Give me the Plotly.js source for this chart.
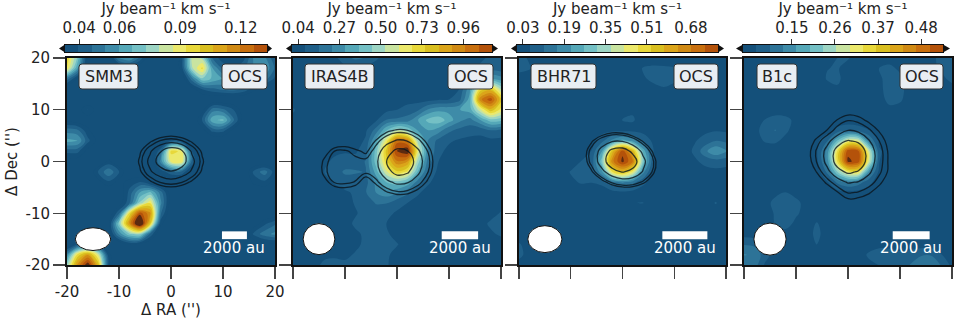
<!DOCTYPE html>
<html><head><meta charset="utf-8">
<script src="https://cdn.plot.ly/plotly-3.0.1.min.js"></script>
<style>html,body{margin:0;padding:0;background:#fff}#c{width:957px;height:320px}</style></head>
<body><div id="c"></div>
<script>
const gridX=[-20,-18,-16,-14,-12,-10,-8,-6,-4,-2,0,2,4,6,8,10,12,14,16,18,20];
const gridY=[20,18,16,14,12,10,8,6,4,2,0,-2,-4,-6,-8,-10,-12,-14,-16,-18,-20];
const names=["SMM3","IRAS4B","BHR71","B1c"];
const tickVals=[-20,-10,0,10,20];
const tickText=["-20","-10","0","10","20"];
const cbTicks=[[0.04,0.06,0.09,0.12],[0.04,0.27,0.50,0.73,0.96],[0.03,0.19,0.35,0.51,0.68],[0.15,0.26,0.37,0.48]];
const cbText=[["0.04","0.06","0.09","0.12"],["0.04","0.27","0.50","0.73","0.96"],["0.03","0.19","0.35","0.51","0.68"],["0.15","0.26","0.37","0.48"]];
const vMin=[0.033,0.006,0.007,0.025];
const vMax=[0.133,1.12,0.785,0.536];
const bandColors=["#14507a","#1f5f88","#2d7397","#3e8ba8","#55a8b8","#74c0c5","#9dd5c4","#c9e4a0","#ece96c","#e8d83a","#d9bf20","#dba51a","#d08a14","#c86f0e","#b4520a","#5c2a10"];

// integrated OCS intensity, mJy/beam km/s
const ocsSMM3=[
[98,72,30,25,25,55,60,45,25,25,25,35,82,78,45,35,30,38,55,55,40],
[92,60,25,25,25,25,30,25,25,25,25,35,78,95,60,45,40,45,55,60,45],
[50,32,25,25,25,25,25,25,25,25,25,25,50,72,65,60,60,60,58,50,38],
[25,25,25,25,25,25,25,25,25,25,25,25,30,40,45,48,50,45,35,28,25],
[25,25,25,25,25,25,25,25,25,25,25,25,25,25,25,25,25,25,25,25,25],
[25,28,40,28,25,25,25,25,25,25,25,25,25,30,50,48,40,28,25,25,25],
[30,28,28,25,25,25,25,25,25,25,25,25,25,40,65,68,48,28,25,25,25],
[50,48,35,25,25,25,25,25,25,25,25,25,25,30,42,42,30,25,25,25,25],
[62,60,42,30,25,25,25,25,25,25,40,35,25,25,25,25,25,25,25,25,25],
[42,42,30,25,25,25,25,25,25,45,95,92,40,25,25,25,25,25,25,25,25],
[28,28,25,25,35,25,25,25,25,55,88,92,45,25,25,25,25,25,25,25,25],
[25,25,25,40,52,40,25,25,25,35,45,45,30,25,25,25,25,25,42,50,36],
[25,25,25,30,38,30,36,40,32,25,25,25,25,25,25,25,25,25,35,38,30],
[25,25,25,25,25,25,42,60,68,50,28,25,25,25,25,25,25,25,25,25,25],
[25,25,25,25,25,28,45,75,92,55,28,25,25,25,25,25,25,25,25,25,25],
[25,25,25,25,25,45,95,130,115,48,25,25,25,25,25,25,25,25,25,25,25],
[25,25,25,25,30,72,115,150,100,35,25,25,25,25,25,25,25,25,28,38,45],
[25,25,25,25,28,55,72,76,45,25,25,25,25,25,25,25,25,25,42,50,55],
[25,38,42,36,25,25,34,30,25,25,25,25,25,25,25,25,25,25,25,30,30],
[55,95,112,85,35,25,25,25,25,25,25,25,25,25,25,25,25,25,25,25,25],
[75,115,140,105,38,25,25,25,25,25,25,25,25,25,38,40,30,25,25,25,25]];
const ocsIRAS4B=[
[50,50,50,50,60,130,170,150,90,50,50,50,50,50,50,50,50,60,70,90,110],
[50,50,50,50,50,55,60,55,50,50,50,50,50,50,50,50,50,60,90,120,110],
[50,50,50,50,50,50,50,50,50,50,50,50,50,50,50,50,55,100,230,300,260],
[50,50,50,50,50,50,50,50,50,50,50,50,50,50,50,60,80,280,700,780,520],
[50,50,50,50,50,50,50,50,50,50,50,50,50,50,70,80,130,340,950,1090,780],
[85,60,50,50,50,50,50,50,50,60,80,110,140,240,280,280,300,340,580,800,650],
[70,50,50,50,50,50,50,50,70,160,170,190,300,400,430,340,250,200,300,420,400],
[50,50,50,50,50,50,50,70,190,380,520,450,300,300,260,170,130,110,100,150,130],
[50,50,50,50,50,50,50,90,330,650,1020,960,500,220,130,90,70,60,60,60,60],
[50,50,50,55,70,75,70,120,420,780,1130,1200,620,230,100,60,50,50,50,50,50],
[50,50,50,70,90,100,110,160,420,730,960,900,490,190,80,50,50,50,50,50,50],
[50,50,50,80,110,170,165,150,340,590,730,660,370,140,60,50,50,50,50,50,50],
[50,50,50,60,85,110,110,130,250,380,420,360,190,90,50,50,50,50,50,50,50],
[50,50,50,50,60,70,90,150,230,270,240,170,90,55,50,50,50,50,50,50,50],
[50,50,50,50,50,60,85,120,160,160,110,80,55,50,50,50,50,50,50,50,60],
[50,50,50,50,50,60,75,100,120,100,70,50,50,50,50,50,50,50,50,60,85],
[50,50,50,50,50,60,90,90,100,80,55,50,50,50,50,50,50,50,60,90,90],
[50,50,50,50,50,60,70,90,100,90,55,50,50,50,50,50,50,50,50,70,90],
[50,50,50,50,50,60,70,90,100,95,85,50,50,50,50,50,50,50,50,50,50],
[50,50,50,60,70,70,85,90,95,90,60,50,50,50,50,50,50,50,50,50,50],
[50,50,50,100,100,90,85,85,85,85,60,50,50,50,50,50,50,50,50,50,50]];
const ocsBHR71=[
[70,55,40,35,35,35,35,35,35,35,35,35,35,35,35,35,35,35,35,35,35],
[65,62,40,35,35,35,35,35,35,35,35,35,62,68,66,62,50,35,35,35,35],
[50,40,35,35,35,35,35,35,35,35,35,45,55,66,70,64,50,35,35,35,35],
[40,35,35,35,35,35,35,35,35,35,35,35,40,50,56,50,35,35,35,35,35],
[50,35,35,35,35,35,35,35,35,35,35,35,35,35,35,35,35,35,35,35,35],
[60,35,35,35,35,35,35,35,35,35,50,55,35,35,35,35,35,35,35,35,35],
[50,35,35,35,35,35,35,35,35,40,60,62,45,35,35,35,35,35,35,35,35],
[35,35,35,35,35,35,35,38,40,45,45,45,40,38,35,35,35,35,48,55,50],
[35,35,35,35,35,35,35,40,90,180,240,190,100,45,35,35,35,55,80,110,100],
[35,35,35,35,35,35,35,60,210,550,770,570,250,60,35,35,35,70,150,210,170],
[35,35,35,35,35,35,60,70,300,660,800,680,300,60,35,35,35,50,75,85,80],
[35,35,35,35,35,62,66,65,200,470,560,450,180,40,35,35,35,35,40,45,40],
[35,35,35,35,35,50,63,60,70,140,170,130,70,35,35,35,35,35,35,35,35],
[35,35,35,35,35,35,35,35,35,40,45,40,35,35,35,35,35,35,35,35,35],
[35,35,35,35,35,35,35,35,35,35,35,58,60,35,35,35,35,35,35,62,35],
[35,35,35,35,35,35,35,35,35,35,35,35,35,35,35,35,35,35,35,35,35],
[35,35,35,35,35,35,35,35,35,35,35,35,35,35,35,35,35,35,35,35,35],
[35,35,35,35,35,35,35,35,35,35,35,35,35,35,35,35,35,35,35,35,35],
[62,45,35,35,35,35,35,35,35,35,35,35,35,35,35,35,35,35,35,35,35],
[65,50,35,35,35,35,35,35,35,35,35,35,35,35,35,35,35,35,35,35,35],
[50,40,35,35,35,35,35,35,35,35,35,35,35,35,35,35,35,35,35,35,35]];
const ocsB1c=[
[40,40,40,40,40,40,40,40,40,60,62,40,40,40,40,40,40,40,50,70,80],
[40,40,40,40,40,40,40,40,58,62,45,40,40,60,70,50,40,40,50,65,90],
[40,40,40,40,40,40,40,40,62,65,45,40,40,50,80,70,40,40,40,50,70],
[40,40,40,40,40,40,40,40,45,55,40,40,40,50,75,72,40,40,40,40,45],
[40,40,40,40,40,40,40,40,40,40,40,40,40,45,70,65,40,40,40,40,40],
[40,40,40,40,40,40,40,40,40,40,40,40,40,40,50,45,40,40,40,40,40],
[40,45,60,75,70,50,40,40,40,40,40,40,40,40,40,40,40,40,40,40,40],
[40,50,70,95,65,45,40,40,45,70,85,75,60,45,40,40,40,40,40,40,40],
[40,45,62,65,50,40,40,50,90,200,300,290,130,50,40,40,40,40,40,40,40],
[40,40,40,40,40,40,40,55,140,340,525,510,285,65,40,40,40,40,40,40,40],
[40,40,40,40,40,40,40,50,140,340,545,520,290,60,40,40,40,40,40,40,40],
[40,40,40,40,40,40,40,40,100,230,320,330,150,50,40,40,40,40,40,40,40],
[40,40,40,40,40,40,40,40,55,100,130,110,70,40,40,40,40,40,40,40,40],
[40,40,45,50,60,45,40,40,40,45,45,45,40,40,40,40,40,40,40,40,40],
[40,40,45,70,85,70,45,40,40,40,40,40,40,40,40,40,40,40,40,40,40],
[40,40,45,62,90,65,45,40,40,40,40,40,40,40,40,40,40,40,40,40,40],
[40,40,40,60,75,50,40,62,40,40,40,40,40,40,40,40,40,40,40,40,40],
[45,40,40,40,45,40,40,70,40,40,40,40,40,40,40,40,40,40,40,40,40],
[90,85,50,40,40,40,40,60,40,40,40,40,40,40,40,40,40,40,40,40,40],
[130,120,75,40,40,40,40,40,40,40,40,40,65,90,85,70,75,90,90,60,40],
[100,110,55,40,40,40,40,40,40,40,40,40,50,60,60,70,95,110,120,90,50]];

// continuum depth field: smaller = brighter; the drawn rings are contour levels of this field
const contX=[-8,-6,-4,-2,0,2,4,6,8];
const contY=[8,6,4,2,0,-2,-4,-6,-8];
const contSMM3=[
[12.9,11.8,10.9,10.4,10.2,10.4,10.9,11.8,12.9],
[11,9.7,8.6,7.9,7.6,7.9,8.6,9.7,11],
[9.5,7.9,6.5,5.5,5.1,5.5,6.5,7.9,9.5],
[8.4,6.5,4.7,3,1.8,2.6,4.7,6.5,8.4],
[8,6,4,2,0.4,2,4,6,8],
[8.4,6.5,4.7,3.6,3.1,3.6,4.7,6.5,8.4],
[9.5,7.9,6.5,5.5,5.1,5.5,6.5,7.9,9.5],
[11,9.7,8.6,7.9,7.6,7.9,8.6,9.7,11],
[12.9,11.8,10.9,10.4,10.2,10.4,10.9,11.8,12.9]];
const contXIRAS=[-16,-14,-12,-10,-8,-6,-4,-2,0,2,4,6,8,10];
const contIRAS4B=[
[11.6,10.7,11,11.2,11.5,10,9.3,8.5,8.1,8.2,8.8,9.7,11,12.4],
[10.5,9.9,9.5,9.3,9.7,9,7.6,6.63,6.13,6.26,6.98,8.1,9.6,11.2],
[9.8,8.6,7.55,7.3,7.75,8,6.17,4.85,4.14,4.33,5.33,6.8,8.46,10.2],
[8.65,7,5.7,5.55,6,6.6,5.06,3.34,2.18,2.52,3.99,5.78,7.69,9.6],
[7.95,6,5.25,5,5.4,5.35,4.6,2.6,0.6,1.4,3.4,5.4,7.4,9.4],
[7.9,5.9,5.2,4.9,5.35,5.45,4.96,3.2,2,2.36,3.9,5.7,7.6,9.6],
[8.5,6.8,5.6,5.5,5.75,7.2,6,4.7,3.95,4.14,5.17,6.6,8.3,10.2],
[9.7,8.3,7.3,7,7.5,9,7.4,6.44,5.93,6.06,6.8,7.9,9.4,11.1],
[11.5,10.5,9.5,9.2,9.6,10,9.1,8.3,7.9,8,8.6,9.7,11,12.4]];
const contBHR71=[
[11.7,10.8,10.1,9.9,10,10.6,11.5,12.6,13.9],
[9.9,8.7,7.8,7.35,7.45,8.1,9.1,10.5,12],
[8.55,6.95,5.65,4.87,4.86,5.63,6.93,8.5,10.3],
[7.8,5.9,4.09,2.61,2.26,3.41,5.13,7.02,8.96],
[7.9,5.89,3.88,1.87,0.43,2.25,4.26,6.28,8.3],
[8.8,6.94,5.18,3.7,2.96,3.47,4.85,6.57,8.42],
[10.3,8.67,7.23,6.12,5.56,5.7,6.5,7.77,9.3],
[12.2,10.8,9.5,8.6,8.15,8.16,8.6,9.5,10.8],
[14,12.9,11.8,11,10.6,10.5,10.7,11.4,12.4]];
const contYB1c=[10,8,6,4,2,0,-2,-4,-6,-8];
const contB1c=[
[12.5,11.5,10.8,9.4,8.55,8.8,9.6,11.5,12],
[11.5,10.4,9.2,7.46,6.7,7,8,9,10.6],
[10,8.75,7.5,5.95,4.95,5.3,6.3,7.75,9.4],
[8.9,7.2,5.55,3.9,3.1,3.5,4.85,6.6,8.4],
[8.4,6.4,4.4,2.55,1.14,2,3.86,5.9,8],
[8.6,6.5,4.45,2.47,0.95,1.9,3.85,5.9,7.95],
[9.3,7.5,5.5,3.75,2.9,3.36,4.65,6.3,7.95],
[10.5,9,7.2,5.75,4.85,5.1,5.9,7.2,8.7],
[12,10.6,9.2,7.7,6.5,6.7,7.4,8.5,9.8],
[12.5,11.6,10.8,9.7,8.35,8.5,9,9.9,11]];
const contLevels=[[6.25,5.6,4.5,2.9],[6.3,5.7,4.3,2.6],[6.75,6.3,4.7,3.05],[7.6,6.6,5,3.2]];

const ocsGrids=[ocsSMM3,ocsIRAS4B,ocsBHR71,ocsB1c];
const contGrids=[contSMM3,contIRAS4B,contBHR71,contB1c];
const contXs=[contX,contXIRAS,contX,contX];
const contYs=[contY,contY,contY,contYB1c];

// beams and scale bars, in arcsec
const beamRX=[3.4,3.05,3.3,3.1];
const beamRY=[2.2,3.0,2.6,3.1];
const barX0=[9.8,8.6,7.7,8.6];
const barX1=[14.6,15.6,16.4,15.7];

// page layout in pixels
const W=957,H=320;
const panelL=[67,293,519,744], panelR=[275,501,726,952];
const panelT=58, panelB=265;
const cbL=[65,292,517,743], cbR=[267,492,718,943];
const tipL=[59,286,511,736], tipR=[272,498,724,950];
const cbT=45, cbB=52;
const boxNameL=[79,305,531,757], boxNameR=[138,374,596,797];
const boxOcsL=[222,448,674,900], boxOcsR=[267,493,718,943];
const boxT=64, boxB=89;

const px=v=>v/W, py=v=>1-v/H;
function rrect(l,r,t,b,q){
  return `M${px(l+q)},${py(t)} L${px(r-q)},${py(t)} Q${px(r)},${py(t)} ${px(r)},${py(t+q)} L${px(r)},${py(b-q)} Q${px(r)},${py(b)} ${px(r-q)},${py(b)} L${px(l+q)},${py(b)} Q${px(l)},${py(b)} ${px(l)},${py(b-q)} L${px(l)},${py(t+q)} Q${px(l)},${py(t)} ${px(l+q)},${py(t)} Z`;
}
const FONT='"DejaVu Sans", sans-serif', INK='#222';
const scale=bandColors.map((c,i)=>[(i+0.5)/bandColors.length,c]);
const colorscale=[[0,bandColors[0]],...scale,[1,bandColors[bandColors.length-1]]];

const traces=[], shapes=[], annotations=[];
const layout={width:W,height:H,margin:{l:0,r:0,t:0,b:0},paper_bgcolor:'#fff',plot_bgcolor:'#14507a',showlegend:false,
  font:{family:FONT,size:15,color:INK},shapes,annotations};

names.forEach((name,i)=>{
  const a=i+1, b=i+5, band=(vMax[i]-vMin[i])/15, top=vMax[i]+band;
  const xk=a===1?'x':'x'+a, yk=a===1?'y':'y'+a;
  traces.push({type:'contour',x:gridX,y:gridY,z:ocsGrids[i].map(r=>r.map(v=>v/1000)),xaxis:xk,yaxis:yk,
    autocontour:false,contours:{start:vMin[i],end:top,size:band*(1-1e-9),coloring:'fill',showlines:false},
    line:{width:0,smoothing:1},colorscale,zmin:vMin[i],zmax:top,showscale:false,hoverinfo:'skip'});
  contLevels[i].forEach(level=>{
    traces.push({type:'contour',x:contXs[i],y:contYs[i],z:contGrids[i],xaxis:xk,yaxis:yk,
      autocontour:false,contours:{start:level,end:level,size:1,coloring:'none'},
      line:{width:1.3,color:'rgba(10,20,28,0.8)',smoothing:1.3},showscale:false,hoverinfo:'skip'});
  });
  const centers=Array.from({length:15},(_,k)=>vMin[i]+(k+0.5)*band);
  traces.push({type:'heatmap',x:centers,y:[0.5],z:[centers],xaxis:'x'+b,yaxis:'y'+b,colorscale,
    zmin:vMin[i],zmax:top,showscale:false,hoverinfo:'skip'});

  layout['xaxis'+(a===1?'':a)]={domain:[px(panelL[i]),px(panelR[i])],range:[-20,20],anchor:yk,
    tickmode:'array',tickvals:tickVals,ticktext:tickText,showticklabels:i===0,ticks:'outside',ticklen:12,tickwidth:1.2,tickcolor:'#444',
    showgrid:false,zeroline:false,showline:true,mirror:true,linewidth:2,linecolor:'#111',
    tickfont:{size:15,color:INK},
    title:i===0?{text:"Δ RA ('')",font:{size:15,color:INK},standoff:4}:undefined};
  layout['yaxis'+(a===1?'':a)]={domain:[py(panelB),py(panelT)],range:[-20,20],anchor:xk,
    tickmode:'array',tickvals:tickVals,ticktext:tickText,showticklabels:i===0,ticks:'outside',ticklen:12,tickwidth:1.2,tickcolor:'#444',
    showgrid:false,zeroline:false,showline:true,mirror:true,linewidth:2,linecolor:'#111',
    tickfont:{size:15,color:INK},
    title:i===0?{text:"Δ Dec ('')",font:{size:15,color:INK},standoff:4}:undefined};
  layout['xaxis'+b]={domain:[px(cbL[i]),px(cbR[i])],range:[vMin[i],vMax[i]],anchor:'y'+b,side:'top',
    tickmode:'array',tickvals:cbTicks[i],ticktext:cbText[i],ticks:'outside',ticklen:5,tickwidth:1,tickcolor:'#333',
    showgrid:false,zeroline:false,showline:true,mirror:true,linewidth:1,linecolor:'#111',
    tickfont:{size:15,color:INK},
    title:{text:'Jy beam⁻¹ km s⁻¹',font:{size:15,color:INK},standoff:2}};
  layout['yaxis'+b]={domain:[py(cbB),py(cbT)],range:[0,1],anchor:'x'+b,showticklabels:false,ticks:'',showgrid:false,zeroline:false,
    showline:true,mirror:true,linewidth:1,linecolor:'#111'};

  // colourbar extension arrows
  shapes.push({type:'path',xref:'paper',yref:'paper',path:`M${px(tipL[i])},${py((cbT+cbB)/2)} L${px(cbL[i])},${py(cbT-0.5)} L${px(cbL[i])},${py(cbB+0.5)} Z`,fillcolor:'#111',line:{width:0}});
  shapes.push({type:'path',xref:'paper',yref:'paper',path:`M${px(tipR[i])},${py((cbT+cbB)/2)} L${px(cbR[i])},${py(cbT-0.5)} L${px(cbR[i])},${py(cbB+0.5)} Z`,fillcolor:'#111',line:{width:0}});
  // name and molecule boxes
  [[boxNameL[i],boxNameR[i],name],[boxOcsL[i],boxOcsR[i],'OCS']].forEach(([l,r,t])=>{
    shapes.push({type:'path',xref:'paper',yref:'paper',path:rrect(l,r,boxT,boxB,3),fillcolor:'#e9eef3',line:{color:'#333',width:1},layer:'above'});
    annotations.push({xref:'paper',yref:'paper',x:px((l+r)/2),y:py((boxT+boxB)/2),text:t,showarrow:false,font:{size:16,color:INK},xanchor:'center',yanchor:'middle'});
  });
  // beam
  shapes.push({type:'circle',xref:xk,yref:yk,x0:-15-beamRX[i],x1:-15+beamRX[i],y0:-15-beamRY[i],y1:-15+beamRY[i],fillcolor:'#fff',line:{color:'#111',width:1},layer:'above'});
  // scale bar
  shapes.push({type:'rect',xref:xk,yref:yk,x0:barX0[i],x1:barX1[i],y0:-15,y1:-13.5,fillcolor:'#fff',line:{width:0},layer:'above'});
  annotations.push({xref:xk,yref:yk,x:(barX0[i]+barX1[i])/2,y:-16.8,text:'2000 au',showarrow:false,font:{size:15,color:'#fff'},xanchor:'center',yanchor:'middle'});
});
Plotly.newPlot('c',traces,layout,{displayModeBar:false,staticPlot:true});
</script></body></html>
